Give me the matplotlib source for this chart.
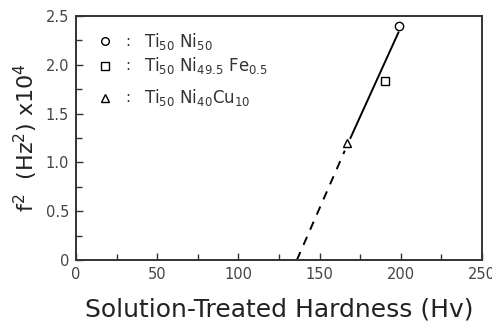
import matplotlib
matplotlib.use("Agg")
import matplotlib.pyplot as plt
from matplotlib.ticker import MultipleLocator

# measured points (solution-treated hardness vs f^2 x 1e4)
hardness = [199, 190, 167]
f2 = [2.40, 1.83, 1.20]
markers = ["o", "s", "^"]
labels = [r"Ti$_{50}$ Ni$_{50}$", r"Ti$_{50}$ Ni$_{49.5}$ Fe$_{0.5}$", r"Ti$_{50}$ Ni$_{40}$Cu$_{10}$"]

# fitted line
solid_x = [169, 198.5]
solid_y = [1.25, 2.33]
dash_x = [136, 165.5]
dash_y = [0.0, 1.12]

xticks = [0, 50, 100, 150, 200, 250]
yticks = [0, 0.5, 1.0, 1.5, 2.0, 2.5]
yticklabels = ["0", "0.5", "1.0", "1.5", "2.0", "2.5"]

fig = plt.figure(figsize=(4.92, 3.26), dpi=100)
ax = fig.add_axes([0.1545, 0.2025, 0.8252, 0.7485])

ax.plot(solid_x, solid_y, color="black", lw=1.4)
ax.plot(dash_x, dash_y, color="black", lw=1.4, dashes=(4.5, 4))
for x, y, m in zip(hardness, f2, markers):
    ax.plot(x, y, marker=m, ms=6, mfc="white", mec="black", mew=1.0, ls="none")

ax.set_xlim(0, 250)
ax.set_ylim(0, 2.5)
ax.set_xticks(xticks)
ax.set_yticks(yticks)
ax.set_yticklabels(yticklabels)
ax.xaxis.set_minor_locator(MultipleLocator(25))
ax.yaxis.set_minor_locator(MultipleLocator(0.25))
ax.tick_params(which="major", direction="in", length=5, width=1.0, labelsize=10.5,
               colors="#333333", labelcolor="#444444", pad=5)
ax.tick_params(which="minor", direction="in", length=4, width=1.0, colors="#333333")
for s in ax.spines.values():
    s.set_linewidth(1.4)
    s.set_color("#333333")

ax.set_xlabel("Solution-Treated Hardness (Hv)", fontsize=18, color="#222222", labelpad=11)
ax.set_ylabel(r"f$^2$  (Hz$^2$) x10$^4$", fontsize=16, color="#222222", labelpad=4)

# legend drawn as text
leg_y = [2.24, 1.99, 1.66]
for m, lab, y in zip(markers, labels, leg_y):
    ax.plot(18, y, marker=m, ms=5.5, mfc="white", mec="black", mew=1.0, ls="none", clip_on=False)
    ax.text(32, y, ":", fontsize=10.5, va="center", ha="center", color="#333333")
    ax.text(42, y, lab, fontsize=12, va="center", ha="left", color="#333333")

fig.savefig("out.png", dpi=100)
